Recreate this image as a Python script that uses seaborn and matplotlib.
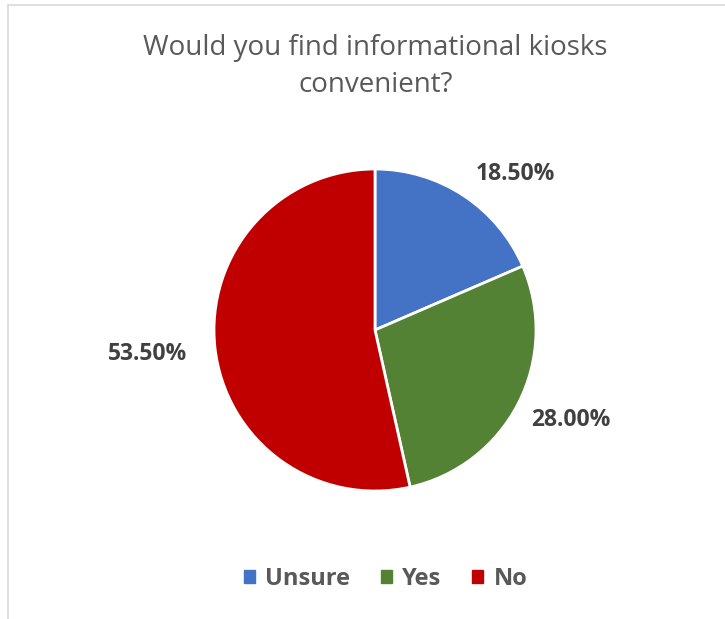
import numpy as np
import seaborn as sns
import matplotlib.pyplot as plt
from matplotlib.patches import Rectangle

# data
answers = ["Unsure", "Yes", "No"]
shares = [18.5, 28.0, 53.5]
slice_colors = ["#4472C4", "#548235", "#C00000"]

# label placement (radius, angle shift in degrees) for the percent labels
label_radius = [1.32, 1.33, 1.42]
label_shift = [-8, 3, -1]

sns.set_theme(style="white")
plt.rcParams['font.family'] = ['Open Sans', 'DejaVu Sans']

W, H = 725, 619
fig = plt.figure(figsize=(W / 100, H / 100), dpi=100)

# pie centre / radius in pixels
cx, cy, R = 375, 330, 161
ax = fig.add_axes([(cx - R) / W, (H - cy - R) / H, 2 * R / W, 2 * R / H])

wedges, _ = ax.pie(shares, colors=sns.color_palette(slice_colors), startangle=90,
                   counterclock=False, radius=1,
                   wedgeprops=dict(edgecolor="white", linewidth=2))
ax.set_xlim(-1, 1)
ax.set_ylim(-1, 1)
ax.set_aspect("equal")
ax.axis("off")

for w, v, r, s in zip(wedges, shares, label_radius, label_shift):
    ang = np.deg2rad((w.theta1 + w.theta2) / 2 + s)
    ax.text(r * np.cos(ang), r * np.sin(ang) - 0.02, f"{v:.2f}%", ha="center", va="center",
            fontsize=16.5, fontweight="bold", color="#404040")

fig.text(0.518, 1 - 48 / H, "Would you find informational kiosks", ha="center", va="center",
         fontsize=20, color="#595959")
fig.text(0.518, 1 - 85 / H, "convenient?", ha="center", va="center",
         fontsize=20, color="#595959")

handles = [Rectangle((0, 0), 1, 1, color=c) for c in slice_colors]
leg = fig.legend(handles, answers, loc="center", bbox_to_anchor=(0.532, 1 - 579 / H),
                 ncol=3, frameon=False, handlelength=0.45, handleheight=0.45,
                 columnspacing=1.3, handletextpad=0.45,
                 prop=dict(size=17, weight="bold"))
for t in leg.get_texts():
    t.set_color("#595959")

# light chart border
fig.patches.append(Rectangle((8 / W, -0.1), 1.1, 1 - 5 / H + 0.1, transform=fig.transFigure,
                             fill=False, edgecolor="#D9D9D9", linewidth=1.2))

fig.savefig("out.png", dpi=100, facecolor="white")
